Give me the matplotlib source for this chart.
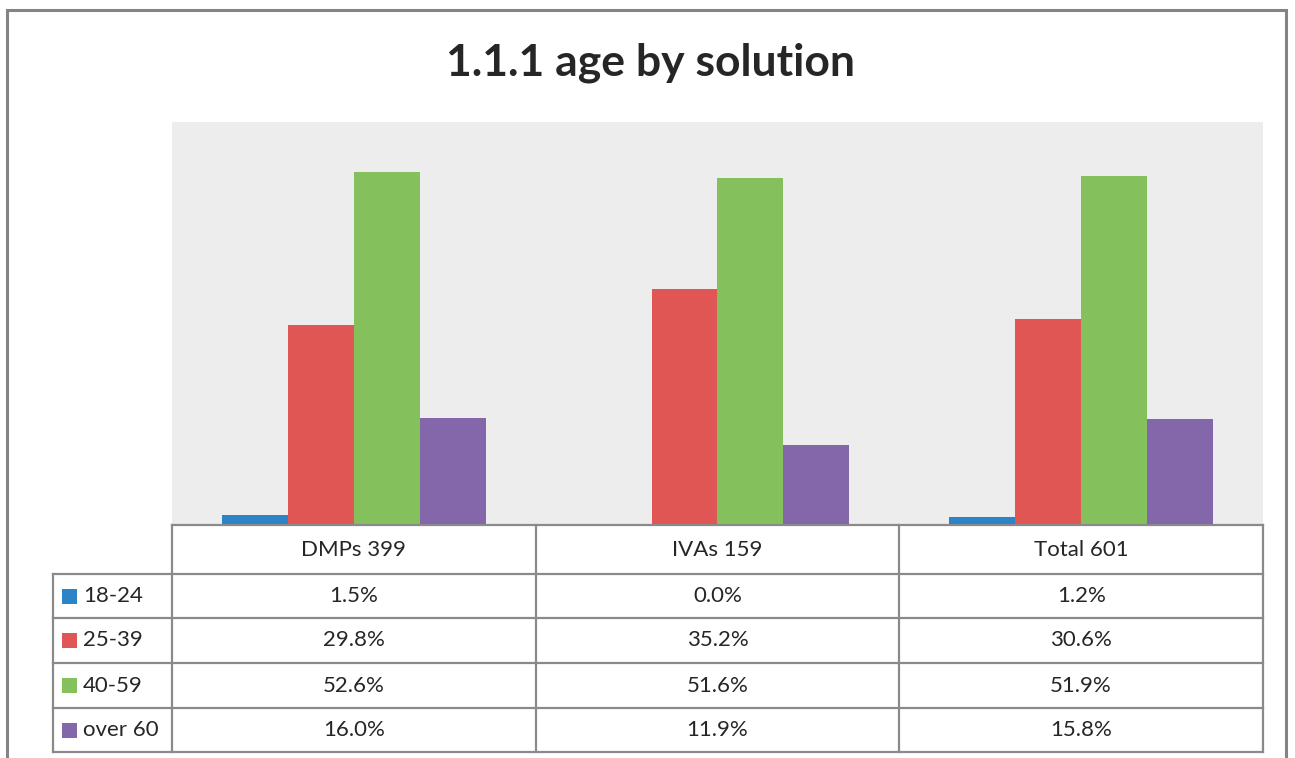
import matplotlib
matplotlib.use("Agg")
import matplotlib.pyplot as plt
import numpy as np
from matplotlib.patches import Rectangle

plt.rcParams['font.family'] = ['Lato', 'DejaVu Sans']

title = "1.1.1 age by solution"
categories = ["DMPs 399", "IVAs 159", "Total 601"]
age_groups = ["18-24", "25-39", "40-59", "over 60"]
values = {
    "18-24":   [1.5, 0.0, 1.2],
    "25-39":   [29.8, 35.2, 30.6],
    "40-59":   [52.6, 51.6, 51.9],
    "over 60": [16.0, 11.9, 15.8],
}
colors = ["#2A84C6", "#E05654", "#84C15C", "#8466AA"]

W, H = 1295, 758
fig = plt.figure(figsize=(W / 100, H / 100), dpi=100)
fig.patch.set_facecolor("white")

def px_rect(x0, y0, x1, y1):
    """Figure-fraction rect from pixel box (top-left origin)."""
    return [x0 / W, 1 - y1 / H, (x1 - x0) / W, (y1 - y0) / H]

# outer chart frame (bottom edge runs off the canvas)
fig.patches.append(Rectangle((7 / W, -0.05), (1286 - 7) / W, 1.05 - 10 / H,
                             transform=fig.transFigure, fill=False,
                             edgecolor="#848484", linewidth=2.2, zorder=0))

fig.text(650 / W, 1 - 63 / H, title, ha="center", va="center",
         fontsize=32, fontweight="bold", color="#262626")

# bar plot area
ax = fig.add_axes(px_rect(172, 122, 1263, 525))
ax.set_facecolor("#EDEDED")
n = len(age_groups)
bw = 66 / 364
x = np.arange(len(categories))
for i, (grp, col) in enumerate(zip(age_groups, colors)):
    ax.bar(x + (i - (n - 1) / 2) * bw, values[grp], width=bw, color=col,
           linewidth=0)
ax.set_xlim(-0.5, len(categories) - 0.5)
ax.set_ylim(0, 60)
ax.set_xticks([])
ax.set_yticks([])
for s in ax.spines.values():
    s.set_visible(False)

# data table under the bars
label_w = 119 / 364
tax = fig.add_axes(px_rect(53, 525, 1263, 752))
tax.set_xlim(-0.5 - label_w, len(categories) - 0.5)
row_h = [49, 44, 45, 45, 44]
edges = np.concatenate([[0], np.cumsum(row_h)])
tax.set_ylim(edges[-1], 0)
tax.axis("off")
lc, lw = "#8A8A8A", 1.6
left = -0.5 - label_w
right = len(categories) - 0.5
# horizontal lines
tax.plot([-0.5, right], [edges[0], edges[0]], color=lc, lw=lw, clip_on=False)
for e in edges[1:]:
    tax.plot([left, right], [e, e], color=lc, lw=lw, clip_on=False)
# vertical lines
tax.plot([left, left], [edges[1], edges[-1]], color=lc, lw=lw, clip_on=False)
for xv in np.arange(len(categories) + 1) - 0.5:
    tax.plot([xv, xv], [edges[0], edges[-1]], color=lc, lw=lw, clip_on=False)

fs = 16
tc = "#262626"
for j, cat in enumerate(categories):
    tax.text(j, (edges[0] + edges[1]) / 2, cat, ha="center", va="center",
             fontsize=fs, color=tc)
key = 15 / 364
for i, (grp, col) in enumerate(zip(age_groups, colors)):
    yc = (edges[i + 1] + edges[i + 2]) / 2
    tax.add_patch(Rectangle((left + 9 / 364, yc - 7.5), key, 15,
                            facecolor=col, edgecolor="none", clip_on=False))
    tax.text(left + 30 / 364, yc, grp, ha="left", va="center",
             fontsize=fs, color=tc)
    for j in range(len(categories)):
        tax.text(j, yc, f"{values[grp][j]:.1f}%", ha="center", va="center",
                 fontsize=fs, color=tc)

fig.savefig("out.png", dpi=100, facecolor="white")
